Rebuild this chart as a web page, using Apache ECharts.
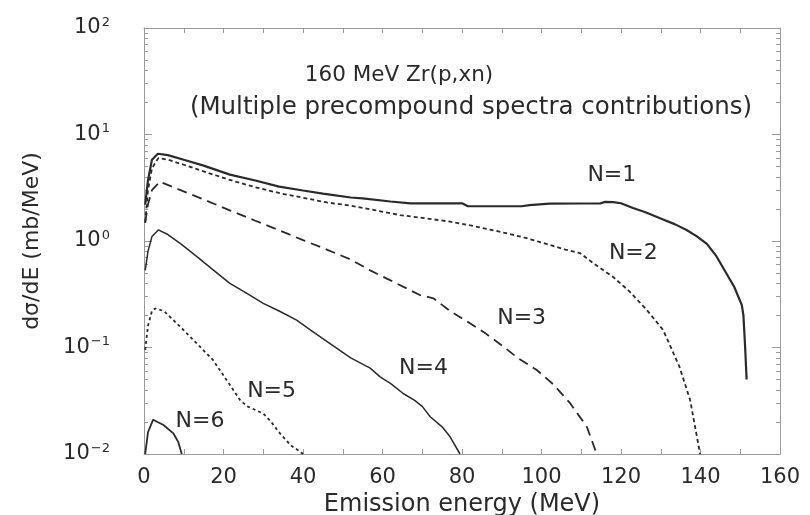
<!DOCTYPE html>
<html>
<head>
<meta charset="utf-8">
<script src="https://cdn.jsdelivr.net/npm/echarts@6/dist/echarts.min.js"></script>
<style>
  html, body { margin: 0; padding: 0; background: #fff; }
  #chart { width: 810px; height: 515px; }
</style>
</head>
<body>
<div id="chart"></div>
<script>
// ---- data: emission energy (MeV) vs dσ/dE (mb/MeV) for each precompound stage ----
const seriesNames = ['N=1', 'N=2', 'N=3', 'N=4', 'N=5', 'N=6'];

const n1 = [[0.3,2.2],[1,3.7],[2,5.8],[3.5,6.6],[6,6.4],[10,5.8],[15,5.1],[21.6,4.2],[28,3.7],[34,3.24],
  [40,2.98],[45,2.79],[52,2.56],[55,2.51],[62,2.35],[67,2.26],[80,2.26],[81.5,2.12],[95,2.12],[97,2.17],
  [102,2.24],[110,2.25],[114.7,2.25],[116,2.33],[118,2.32],[120,2.26],[123,2.04],[126,1.87],[130.6,1.59],
  [133.5,1.44],[136.5,1.27],[139,1.11],[141.6,0.94],[144,0.72],[146.6,0.49],[148.5,0.37],[150.4,0.25],
  [150.8,0.2],[151.2,0.106],[151.6,0.05]];

const n2 = [[0.3,1.5],[1,3.0],[2,4.8],[3.6,6.0],[6,5.8],[10,5.2],[15,4.5],[21.6,3.74],[28,3.2],[34.2,2.81],
  [40,2.55],[46,2.3],[52,2.15],[58,1.95],[64.4,1.75],[70,1.65],[77,1.52],[83,1.38],[89.6,1.22],[96,1.07],
  [102,0.92],[106,0.83],[109.7,0.77],[113,0.62],[118,0.46],[122,0.34],[126.5,0.225],[130.6,0.146],
  [134.7,0.066],[137.4,0.032],[139.9,0.01]];

const n3 = [[0.3,1.48],[1,2.2],[2,3.0],[4,3.6],[8,3.13],[12,2.72],[16,2.37],[21.6,1.94],[28,1.55],[34,1.26],
  [40,1.02],[46,0.83],[52,0.67],[56.9,0.53],[62,0.427],[69.4,0.311],[72.8,0.29],[77,0.22],[82,0.169],
  [86,0.135],[90.4,0.102],[94,0.08],[98.8,0.0615],[103,0.045],[107.2,0.03],[111.4,0.018],[113.9,0.01]];

const n4 = [[0.3,0.53],[1,0.8],[2,1.1],[3.6,1.27],[6,1.15],[9.1,0.95],[13,0.73],[17,0.55],[21.6,0.40],
  [26,0.32],[30,0.26],[34,0.22],[38.4,0.181],[42,0.145],[46.8,0.109],[52,0.08],[56.9,0.064],[59.4,0.053],
  [62,0.046],[65.2,0.037],[68,0.032],[70,0.028],[72,0.0224],[75,0.018],[77,0.0145],[79.5,0.01]];

const n5 = [[0.3,0.095],[1,0.16],[2,0.22],[2.8,0.233],[5,0.22],[9.1,0.157],[13,0.112],[17.4,0.076],
  [21,0.048],[24.2,0.032],[26,0.028],[30,0.024],[32,0.02],[34.2,0.0156],[37,0.012],[39.2,0.0106],[40,0.01]];

const n6 = [[0.3,0.01],[1,0.016],[2.3,0.021],[4.9,0.0187],[7.4,0.0156],[8.6,0.013],[9.5,0.01]];

// ---- axis ticks and labels ----
const xTickLabels = [0, 20, 40, 60, 80, 100, 120, 140, 160];
const yDecades = [0.01, 0.1, 1, 10, 100];
const yExponents = ['\u22122', '\u22121', '0', '1', '2'];
const yMinorTicks = [0.02,0.03,0.04,0.05,0.06,0.07,0.08,0.09,
  0.2,0.3,0.4,0.5,0.6,0.7,0.8,0.9,
  2,3,4,5,6,7,8,9,
  20,30,40,50,60,70,80,90];

// ---- presentation ----
const FONT = 'DejaVu Sans';
const INK = '#2a2a2a';
const FRAME = '#9a9a9a';
const lineTypes = [
  { type: 'solid', width: 2.2 },
  { type: [4, 3], width: 1.8 },
  { type: [10, 6], width: 1.8 },
  { type: 'solid', width: 1.5 },
  { type: [3, 3], width: 1.8 },
  { type: 'solid', width: 1.8 }
];
// where each curve's tag sits, in data coordinates
const tagAnchors = [[117.7, 4.17], [123.1, 0.766], [95, 0.188], [70.3, 0.0638], [32.1, 0.0385], [14.1, 0.0201]];

const allSeries = [n1, n2, n3, n4, n5, n6];

const chart = echarts.init(document.getElementById('chart'), null, { renderer: 'canvas' });

function logAxis(position, ticks, len, withLabels) {
  const ax = {
    type: 'log',
    logBase: 10,
    min: 0.01,
    max: 100,
    position: position,
    axisLine: { show: withLabels !== null, lineStyle: { color: FRAME, width: 1 } },
    axisTick: { show: true, inside: true, length: len, customValues: ticks, lineStyle: { color: FRAME, width: 1 } },
    minorTick: { show: false },
    splitLine: { show: false },
    axisLabel: { show: false }
  };
  if (withLabels) {
    ax.axisLabel = {
      show: true,
      customValues: yDecades,
      margin: 34,
      formatter: function (v) {
        const i = yDecades.findIndex(d => Math.abs(d - v) / d < 1e-6);
        return '{b|10}{e|' + yExponents[i] + '}';
      },
      rich: {
        b: { fontFamily: FONT, fontSize: 21, color: INK, lineHeight: 24 },
        e: { fontFamily: FONT, fontSize: 13, color: INK, lineHeight: 24, verticalAlign: 'top', padding: [0, 0, 10, 1] }
      }
    };
    ax.name = 'd\u03c3/dE (mb/MeV)';
    ax.nameLocation = 'middle';
    ax.nameGap = 101;
    ax.nameTextStyle = { fontFamily: FONT, fontSize: 22, color: INK };
  }
  return ax;
}

const option = {
  backgroundColor: '#ffffff',
  animation: false,
  title: [
    {
      text: '160 MeV Zr(p,xn)',
      left: 394, top: 59, textAlign: 'center',
      textStyle: { fontFamily: FONT, fontSize: 21.5, fontWeight: 'normal', color: INK }
    },
    {
      text: '(Multiple precompound spectra contributions)',
      left: 466, top: 90, textAlign: 'center',
      textStyle: { fontFamily: FONT, fontSize: 24.5, fontWeight: 'normal', color: INK }
    }
  ],
  grid: { left: 144, right: 30, top: 28, bottom: 61, outerBoundsMode: 'none', containLabel: false },
  xAxis: [
    {
      type: 'value', min: 0, max: 160, interval: 10, position: 'bottom',
      axisLine: { show: true, lineStyle: { color: FRAME, width: 1 } },
      axisTick: { show: true, inside: true, length: 5, lineStyle: { color: FRAME } },
      splitLine: { show: false },
      axisLabel: {
        customValues: xTickLabels, margin: 13,
        fontFamily: FONT, fontSize: 21, color: INK
      },
      name: 'Emission energy (MeV)', nameLocation: 'middle', nameGap: 39,
      nameTextStyle: { fontFamily: FONT, fontSize: 24, color: INK }
    },
    {
      type: 'value', min: 0, max: 160, interval: 10, position: 'top',
      axisLine: { show: true, lineStyle: { color: FRAME, width: 1 } },
      axisTick: { show: true, inside: true, length: 5, lineStyle: { color: FRAME } },
      splitLine: { show: false },
      axisLabel: { show: false }
    }
  ],
  yAxis: [
    logAxis('left', yDecades, 8, true),
    logAxis('left', yMinorTicks, 4, null),
    logAxis('right', yDecades, 8, false),
    logAxis('right', yMinorTicks, 4, null)
  ],
  series: allSeries.map((d, i) => ({
    name: seriesNames[i],
    type: 'line',
    xAxisIndex: 0,
    yAxisIndex: 0,
    data: d,
    showSymbol: false,
    symbol: 'none',
    smooth: false,
    clip: true,
    lineStyle: { color: INK, width: lineTypes[i].width, type: lineTypes[i].type, cap: 'butt' }
  }))
};

chart.setOption(option);

// curve tags placed through the axes' own scales
const tags = tagAnchors.map((p, i) => {
  const px = chart.convertToPixel({ xAxisIndex: 0, yAxisIndex: 0 }, p);
  return {
    type: 'text',
    x: px[0], y: px[1],
    style: {
      text: seriesNames[i],
      fontFamily: FONT, fontSize: 22, fill: INK,
      textAlign: 'center', textVerticalAlign: 'middle'
    },
    z: 10
  };
});
chart.setOption({ graphic: tags });
</script>
</body>
</html>
